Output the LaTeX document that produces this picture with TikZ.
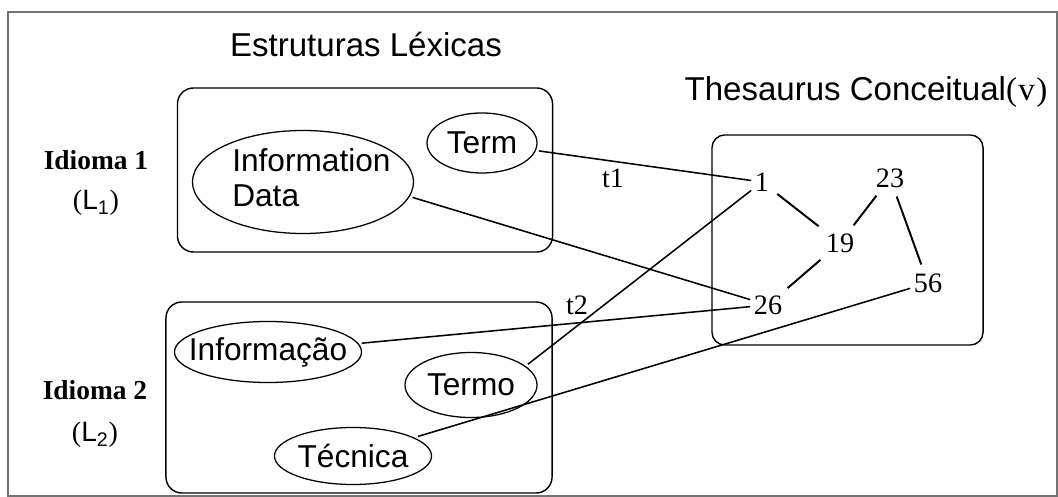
\documentclass[tikz,border=0pt]{standalone}
\usepackage{fontspec}
\setmainfont{Liberation Serif}
\setsansfont{Liberation Sans}
\usepackage{tikz}
\usetikzlibrary{shapes.geometric, positioning}
\tikzstyle{frame}=[draw=black!55, line width=0.8pt]
\tikzstyle{langbox}=[rectangle, rounded corners=0.4cm, draw=black, line width=1pt]
\tikzstyle{lexeme}=[ellipse, draw=black, line width=0.9pt, inner sep=0pt, outer sep=2.5pt, font=\sffamily\fontsize{22.5}{25}\selectfont]
\tikzstyle{concept}=[inner sep=2.5pt, font=\fontsize{20}{22}\selectfont]
\tikzstyle{heading}=[font=\sffamily\fontsize{23.5}{26}\selectfont]
\tikzstyle{idioma}=[font=\bfseries\fontsize{19.5}{22}\selectfont]
\tikzstyle{langtag}=[font=\fontsize{20}{22}\selectfont]
\tikzstyle{link}=[line width=1.1pt]
\tikzstyle{rel}=[line width=1.4pt, shorten <=4pt, shorten >=4pt]
\newcommand{\lexlabel}[1]{\makebox[0pt]{#1}}

\begin{document}
\begin{tikzpicture}[x=0.025cm, y=-0.025cm]
		\useasboundingbox (0,0) rectangle (1058,497);
		\draw [frame] (8,12) rectangle (1057,496);

		\node (lexhead) [heading] at (366,45) {Estruturas Léxicas};
		\node (thhead) [heading] at (866,92) {Thesaurus Conceitual{\rmfamily(\kern1pt v\kern1pt)}};

		\node (box1) [langbox, minimum width=9.375cm, minimum height=4.1cm] at (365,170) {};
		\node (box2) [langbox, minimum width=9.65cm, minimum height=4.775cm] at (359,397.5) {};
		\node (thes) [langbox, rounded corners=0.32cm, minimum width=6.775cm, minimum height=5.25cm] at (847.5,240) {};

		\node (idioma1) [idioma] at (96,160) {Idioma 1};
		\node (lang1) [langtag] at (96,203) {({\sffamily L\textsubscript{1}})};
		\node (idioma2) [idioma] at (95,390) {Idioma 2};
		\node (lang2) [langtag] at (95,435) {({\sffamily L\textsubscript{2}})};

		\node (infodata) [lexeme, minimum width=5.525cm, minimum height=2.575cm] at (303,182) {\lexlabel{\hspace{12pt}\begin{tabular}{@{}l@{}}Information\\Data\end{tabular}}};
		\node (term) [lexeme, minimum width=2.75cm, minimum height=1.5cm] at (482,143) {\lexlabel{Term}};
		\node (informacao) [lexeme, minimum width=4.675cm, minimum height=1.525cm] at (268,352) {\lexlabel{Informação}};
		\node (termo) [lexeme, minimum width=3.3cm, minimum height=1.625cm] at (471,385) {\lexlabel{Termo}};
		\node (tecnica) [lexeme, minimum width=3.925cm, minimum height=1.425cm] at (353,456) {\lexlabel{Técnica}};

		\node (c1) [concept] at (762,182) {1};
		\node (c23) [concept] at (890,178) {23};
		\node (c19) [concept] at (840,243) {19};
		\node (c56) [concept] at (928,283) {56};
		\node (c26) [concept] at (768,305) {26};

		\node (t1) [concept] at (613,178) {t1};
		\node (t2) [concept] at (577,305) {t2};

		\draw [link] (term) -- (c1);
		\draw [link] (infodata.-8) -- (c26);
		\draw [link] (c1) -- (termo.20);
		\draw [link] (informacao) -- (c26);
		\draw [link] (tecnica) -- (c56);

		\draw [rel] (c1) -- (c19);
		\draw [rel] (c19) -- (c23);
		\draw [rel] (c19) -- (c26);
		\draw [rel] (c23) -- (c56);
	\end{tikzpicture}
\end{document}
